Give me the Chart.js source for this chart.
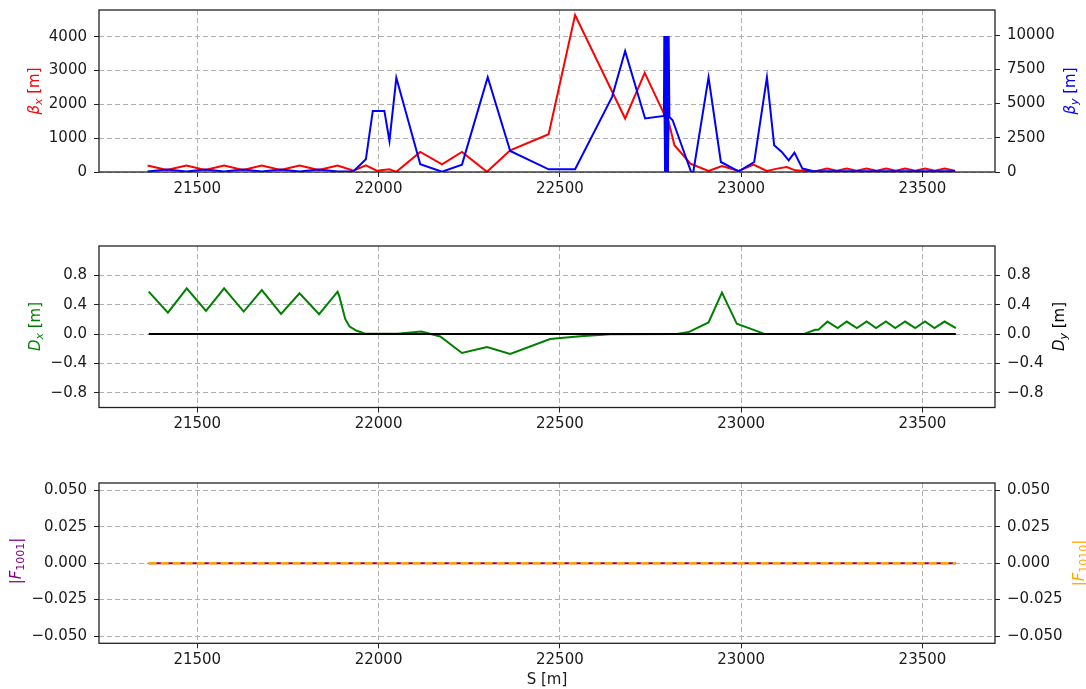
<!DOCTYPE html>
<html>
<head>
<meta charset="utf-8">
<script src="https://cdn.jsdelivr.net/npm/chart.js@4/dist/chart.umd.min.js"></script>
<style>
  html, body { margin: 0; padding: 0; background: #fff; }
  #wrap { position: relative; width: 1086px; height: 689px; }
  .panel { position: absolute; left: 0; }
</style>
</head>
<body>
<div id="wrap">
  <canvas id="beta-chart" class="panel" style="top:0" width="1086" height="236"></canvas>
  <canvas id="disp-chart" class="panel" style="top:236px" width="1086" height="237"></canvas>
  <canvas id="coupling-chart" class="panel" style="top:473px" width="1086" height="216"></canvas>
</div>
<script>
// optics along the section, s in metres
const sTicks = [21500, 22000, 22500, 23000, 23500];

const sBetaX = [21363, 21416, 21470, 21522, 21574, 21626, 21678, 21730, 21782, 21835,
  21887, 21931, 21965, 21995, 22030, 22049, 22115, 22175, 22230, 22299,
  22363, 22469, 22542, 22680, 22734, 22789, 22791, 22797, 22800, 22816,
  22860, 22910, 22947, 22993, 23034, 23071, 23099, 23126, 23149, 23180,
  23210, 23237, 23264, 23291, 23318, 23346, 23373, 23400, 23426, 23452,
  23480, 23507, 23534, 23561, 23590];
const betaX = [190, 60, 190, 60, 190, 60, 190, 60, 190, 60,
  190, 40, 200, 40, 80, 5, 593, 228, 593, 5,
  643, 1117, 4643, 1582, 2933, 1680, 0, 0, 1481, 791,
  249, 30, 178, 30, 219, 30, 100, 148, 50, 30,
  40, 100, 40, 100, 40, 100, 40, 100, 40, 100,
  40, 100, 40, 100, 40];

const sBetaY = [21363, 21416, 21470, 21522, 21574, 21626, 21678, 21730, 21782, 21835,
  21887, 21931, 21965, 21984, 22016, 22030, 22049, 22115, 22175, 22230,
  22301, 22363, 22469, 22542, 22644, 22680, 22735, 22787, 22788, 22790,
  22792, 22794, 22796, 22798, 22800, 22802, 22811, 22862, 22868, 22910,
  22944, 22993, 23036, 23071, 23091, 23112, 23131, 23147, 23169, 23200,
  23590];
const betaY = [40, 180, 40, 180, 40, 180, 40, 180, 40, 180,
  40, 60, 929, 4462, 4462, 2268, 6876, 563, 20, 540,
  6920, 1536, 197, 197, 5486, 8829, 3906, 4096, 9930, 0,
  9930, 0, 9930, 0, 9930, 4023, 3780, 0, 0, 6905,
  731, 50, 731, 6905, 1953, 1463, 856, 1419, 249, 50,
  50];

const sDisp = [21366, 21419, 21471, 21524, 21574, 21628, 21678, 21731, 21782, 21836,
  21887, 21892, 21908, 21920, 21940, 21963, 22051, 22118, 22170, 22230,
  22299, 22363, 22473, 22556, 22639, 22823, 22855, 22910, 22947, 22988,
  23066, 23172, 23204, 23213, 23238, 23266, 23291, 23319, 23346, 23372,
  23399, 23425, 23452, 23480, 23507, 23533, 23561, 23592];
const dispX = [0.578, 0.293, 0.624, 0.316, 0.624, 0.307, 0.600, 0.275, 0.556, 0.271,
  0.578, 0.510, 0.207, 0.103, 0.045, 0.004, 0.004, 0.035, -0.032, -0.258,
  -0.176, -0.272, -0.068, -0.030, -0.003, 0.0, 0.027, 0.158, 0.565, 0.140,
  0.0, 0.0, 0.058, 0.058, 0.171, 0.081, 0.171, 0.081, 0.171, 0.081,
  0.171, 0.081, 0.171, 0.081, 0.171, 0.081, 0.171, 0.080];

const sDispY = [21366, 23592];
const dispY = [0, 0];

const sCoupling = [21366, 23592];
const f1001 = [0, 0];
const f1010 = [0, 0];

const betaXTicks = [0, 1000, 2000, 3000, 4000];
const betaYTicks = [0, 2500, 5000, 7500, 10000];
const dispTicks = [-0.8, -0.4, 0.0, 0.4, 0.8];
const couplingTicks = [-0.05, -0.025, 0, 0.025, 0.05];

const FONT = '"DejaVu Sans", sans-serif';
const S_MIN = 21229, S_MAX = 23700;

function xy(s, v) {
  return s.map((x, i) => ({ x: x, y: v[i] }));
}

function fixedTicks(values) {
  return function (scale) { scale.ticks = values.map(v => ({ value: v })); };
}

function fmt(digits) {
  return v => Number(v).toFixed(digits).replace('-', '\u2212');
}

// text with italic / subscript pieces, centred on (cx, cy)
function drawRich(ctx, parts, cx, cy, vertical, color) {
  ctx.save();
  ctx.translate(cx, cy);
  if (vertical) ctx.rotate(-Math.PI / 2);
  ctx.fillStyle = color;
  ctx.textBaseline = 'alphabetic';
  ctx.textAlign = 'left';
  const fontOf = p => (p.it ? 'italic ' : '') + (p.sub ? 11 : 15) + 'px ' + FONT;
  let total = 0;
  const widths = parts.map(p => {
    ctx.font = fontOf(p);
    const w = ctx.measureText(p.t).width;
    total += w;
    return w;
  });
  let pos = -total / 2;
  parts.forEach((p, i) => {
    ctx.font = fontOf(p);
    ctx.fillText(p.t, pos, p.sub ? 9 : 5.5);
    pos += widths[i];
  });
  ctx.restore();
}

function framePlugin(labels) {
  return {
    id: 'frame',
    afterDraw(chart) {
      const { ctx, chartArea: a } = chart;
      ctx.save();
      ctx.strokeStyle = '#222';
      ctx.lineWidth = 1.3;
      ctx.strokeRect(a.left, a.top, a.right - a.left, a.bottom - a.top);
      labels.forEach(l => drawRich(ctx, l.parts, l.x, l.y, l.vertical !== false, l.color));
      ctx.restore();
    }
  };
}

function line(data, color, axis, extra) {
  return Object.assign({
    data: data,
    borderColor: color,
    borderWidth: 2,
    pointRadius: 0,
    tension: 0,
    fill: false,
    yAxisID: axis
  }, extra || {});
}

const tickFont = { family: FONT, size: 15 };

// y axes keep a fixed width and add no extra room above the plot
function yFit(width) {
  return s => { s.width = width; s.paddingTop = 0; s.paddingBottom = 0; };
}

function makePanel(id, cfg) {
  return new Chart(document.getElementById(id), {
    type: 'line',
    data: { datasets: cfg.datasets },
    options: {
      responsive: false,
      animation: false,
      events: [],
      layout: { padding: { top: 10, left: 0, right: 0, bottom: 0 } },
      plugins: { legend: { display: false }, tooltip: { enabled: false } },
      scales: {
        x: {
          type: 'linear', min: S_MIN, max: S_MAX,
          afterBuildTicks: fixedTicks(sTicks),
          afterFit: s => { s.height = cfg.xHeight; s.paddingLeft = 0; s.paddingRight = 0; },
          grid: { color: '#b0b0b0', tickColor: '#222', tickLength: 5 },
          border: { display: false, dash: [5, 3] },
          ticks: { font: tickFont, color: '#1a1a1a', padding: 3, autoSkip: false, maxRotation: 0, callback: v => String(v) }
        },
        yL: {
          type: 'linear', position: 'left', min: cfg.left.min, max: cfg.left.max,
          afterBuildTicks: fixedTicks(cfg.left.ticks),
          afterFit: yFit(99),
          grid: { color: '#b0b0b0', tickColor: '#222', tickLength: 5 },
          border: { display: false, dash: [5, 3] },
          ticks: { font: tickFont, color: '#1a1a1a', padding: 7, autoSkip: false, callback: cfg.left.fmt }
        },
        yR: {
          type: 'linear', position: 'right', min: cfg.right.min, max: cfg.right.max,
          afterBuildTicks: fixedTicks(cfg.right.ticks),
          afterFit: yFit(91),
          grid: { drawOnChartArea: false, tickColor: '#222', tickLength: 5 },
          border: { display: false },
          ticks: { font: tickFont, color: '#1a1a1a', padding: 7, autoSkip: false, callback: cfg.right.fmt }
        }
      }
    },
    plugins: [framePlugin(cfg.labels)]
  });
}

makePanel('beta-chart', {
  xHeight: 64,
  datasets: [
    line(xy(sBetaY, betaY), 'blue', 'yR'),
    line(xy(sBetaX, betaX), 'red', 'yL')
  ],
  left: { min: 0, max: 4791, ticks: betaXTicks, fmt: fmt(0) },
  right: { min: 0, max: 11830, ticks: betaYTicks, fmt: fmt(0) },
  labels: [
    { parts: [{ t: 'β', it: true }, { t: 'x', it: true, sub: true }, { t: ' [m]' }], x: 33, y: 91, color: 'red' },
    { parts: [{ t: 'β', it: true }, { t: 'y', it: true, sub: true }, { t: ' [m]' }], x: 1069, y: 91, color: 'blue' }
  ]
});

makePanel('disp-chart', {
  xHeight: 65.5,
  datasets: [
    line(xy(sDispY, dispY), 'black', 'yR'),
    line(xy(sDisp, dispX), 'green', 'yL')
  ],
  left: { min: -1, max: 1.2, ticks: dispTicks, fmt: fmt(1) },
  right: { min: -1, max: 1.2, ticks: dispTicks, fmt: fmt(1) },
  labels: [
    { parts: [{ t: 'D', it: true }, { t: 'x', it: true, sub: true }, { t: ' [m]' }], x: 34, y: 90.5, color: 'green' },
    { parts: [{ t: 'D', it: true }, { t: 'y', it: true, sub: true }, { t: ' [m]' }], x: 1058, y: 90.5, color: 'black' }
  ]
});

makePanel('coupling-chart', {
  xHeight: 45.7,
  datasets: [
    line(xy(sCoupling, f1010), 'orange', 'yR', { borderDash: [8, 4], borderWidth: 2.5 }),
    line(xy(sCoupling, f1001), 'purple', 'yL')
  ],
  left: { min: -0.055, max: 0.055, ticks: couplingTicks, fmt: fmt(3) },
  right: { min: -0.055, max: 0.055, ticks: couplingTicks, fmt: fmt(3) },
  labels: [
    { parts: [{ t: '|' }, { t: 'F', it: true }, { t: '1001', sub: true }, { t: '|' }], x: 15, y: 88, color: 'purple' },
    { parts: [{ t: '|' }, { t: 'F', it: true }, { t: '1010', sub: true }, { t: '|' }], x: 1078, y: 90, color: 'orange' },
    { parts: [{ t: 'S [m]' }], x: 547, y: 205, vertical: false, color: '#1a1a1a' }
  ]
});
</script>
</body>
</html>
